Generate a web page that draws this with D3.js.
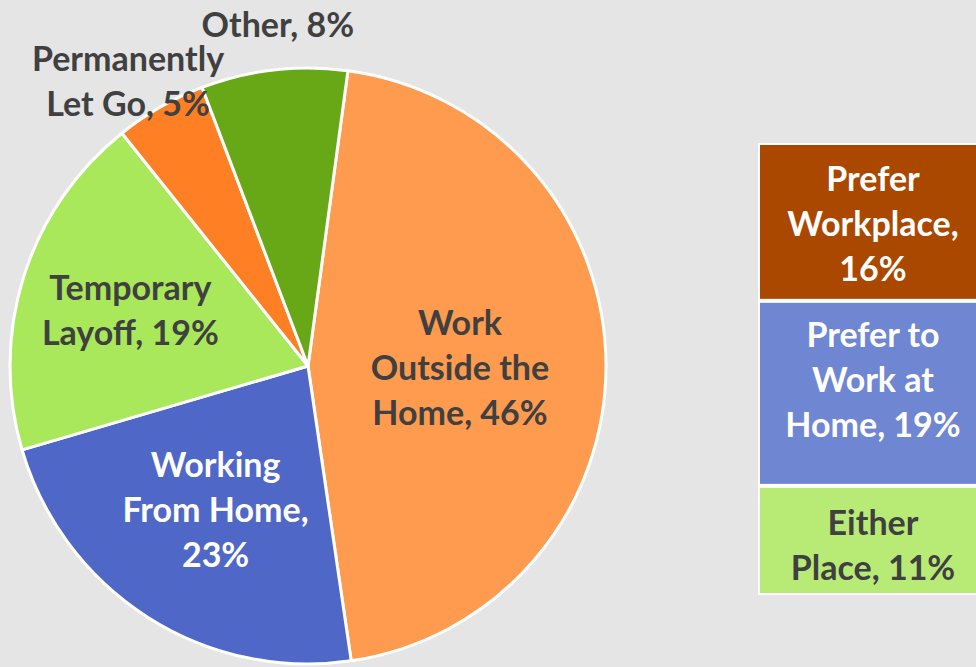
<!DOCTYPE html>
<html><head><meta charset="utf-8">
<script src="https://cdn.jsdelivr.net/npm/d3@7"></script>
<style>html,body{margin:0;padding:0;background:#e5e5e5;overflow:hidden}</style>
</head><body>
<svg id="c" width="976" height="667"></svg>
<script>
// Data
const pieCategories = ["Work Outside the Home", "Working From Home", "Temporary Layoff", "Permanently Let Go", "Other"];
const pieValues = [46, 23, 19, 5, 8];
const pieLabelLines = [["Work", "Outside the", "Home, 46%"], ["Working", "From Home,", "23%"], ["Temporary", "Layoff, 19%"], ["Permanently", "Let Go, 5%"], ["Other, 8%"]];
const stackCategories = ["Prefer Workplace", "Prefer to Work at Home", "Either Place"];
const stackValues = [16, 19, 11];
const stackLabelLines = [["Prefer", "Workplace,", "16%"], ["Prefer to", "Work at", "Home, 19%"], ["Either", "Place, 11%"]];

// Styles / layout
const pieColors = ["#ff9b4f", "#4f67c7", "#a9e85a", "#ff7f24", "#68a817"];
const pieTextColors = ["#404040", "#ffffff", "#404040", "#404040", "#404040"];
const labelRadiusFactor = [0.51, 0.575, 0.625, 1.13, 1.15];
const labelXOffset = [0, 0, 0, -13, 9];
const labelYOffset = [3, 0, 1, 8, 0];
const stackColors = ["#ab4800", "#6f86d3", "#b7eb75"];
const stackTextColors = ["#ffffff", "#ffffff", "#404040"];
const font = "Lato, 'Open Sans', sans-serif";
const fs = 34, lh = 45;

const svg = d3.select("#c");
const cx = 308, cy = 366, R = 298;
const startDeg = 7.7;
const pie = d3.pie().sort(null).value(d => d)
  .startAngle(startDeg * Math.PI / 180).endAngle((startDeg + 360) * Math.PI / 180);
const arcs = pie(pieValues);
const arc = d3.arc().innerRadius(0).outerRadius(R);
const g = svg.append("g").attr("transform", `translate(${cx},${cy})`);
g.selectAll("path").data(arcs).join("path")
  .attr("d", arc).attr("fill", (d, i) => pieColors[i])
  .attr("stroke", "#fff").attr("stroke-width", 3).attr("stroke-linejoin", "round");

arcs.forEach((a, i) => {
  const mid = (a.startAngle + a.endAngle) / 2;
  const r = R * labelRadiusFactor[i];
  const x = Math.sin(mid) * r + labelXOffset[i], y = -Math.cos(mid) * r + labelYOffset[i];
  const lines = pieLabelLines[i];
  const t = g.append("text").attr("text-anchor", "middle")
    .attr("font-family", font).attr("font-weight", "bold").attr("font-size", fs)
    .attr("fill", pieTextColors[i]);
  lines.forEach((ln, j) => {
    t.append("tspan").attr("x", x)
      .attr("y", y + (j - (lines.length - 1) / 2) * lh + fs * 0.35).text(ln);
  });
});

// Stacked bar
const total = d3.sum(stackValues);
const y = d3.scaleLinear().domain([0, total]).range([145, 593]);
const x0 = 760, bw = 228;
let cum = 0;
const segs = stackValues.map((v, i) => { const s = { i, v, y0: cum, y1: cum + v }; cum += v; return s; });
svg.append("rect").attr("x", x0 - 2).attr("y", y(0) - 2).attr("width", bw + 4).attr("height", y(total) - y(0) + 4).attr("fill", "#fff");
svg.selectAll("rect.seg").data(segs).join("rect").attr("class", "seg")
  .attr("x", x0).attr("y", d => y(d.y0) + (d.i > 0 ? 2 : 0))
  .attr("width", bw).attr("height", d => y(d.y1) - y(d.y0) - (d.i > 0 ? 2 : 0) - (d.i < segs.length - 1 ? 2 : 0))
  .attr("fill", d => stackColors[d.i]);
const sOffsets = [1, -13, 6];
segs.forEach(s => {
  const lines = stackLabelLines[s.i];
  const ymid = (y(s.y0) + y(s.y1)) / 2 + sOffsets[s.i];
  const t = svg.append("text").attr("text-anchor", "middle")
    .attr("font-family", font).attr("font-weight", "bold").attr("font-size", fs)
    .attr("fill", stackTextColors[s.i]);
  lines.forEach((ln, j) => {
    t.append("tspan").attr("x", 873)
      .attr("y", ymid + (j - (lines.length - 1) / 2) * lh + fs * 0.35).text(ln);
  });
});
</script>
</body></html>
